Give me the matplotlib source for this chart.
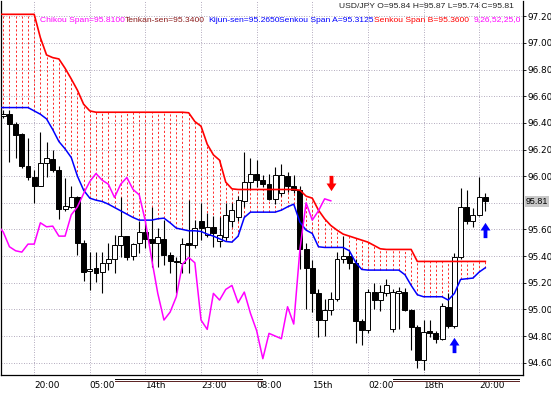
import numpy as np
import matplotlib.pyplot as plt
from matplotlib.path import Path
from matplotlib.lines import Line2D
from matplotlib.transforms import blended_transform_factory

# USD/JPY hourly candles (bar 0 = left edge, bar 78 = last bar)
opens = [96.455, 96.47, 96.395, 96.32, 96.08, 95.995, 95.925, 96.10, 96.13, 96.05,
         95.75, 95.77, 95.84, 95.495, 95.29, 95.31, 95.28, 95.35, 95.375, 95.48,
         95.55, 95.40, 95.495, 95.58, 95.525, 95.495, 95.53, 95.41, 95.365, 95.345,
         95.50, 95.48, 95.66, 95.56, 95.62, 95.51, 95.545, 95.66, 95.695, 95.81,
         95.96, 96.02, 95.97, 95.945, 95.83, 95.87, 96.00, 95.93, 95.895, 95.457,
         95.307, 95.12, 94.92, 94.995, 95.08, 95.38, 95.40, 95.345, 94.91, 94.845,
         95.13, 95.07, 95.125, 94.85, 95.125, 95.13, 94.995, 94.87, 94.62, 94.84,
         94.82, 94.775, 95.02, 94.875, 95.395, 95.77, 95.665, 95.71, 95.84]
highs = [96.495, 96.495, 96.41, 96.325, 96.285, 96.045, 96.33, 96.26, 96.195, 96.075,
         95.99, 95.93, 95.85, 95.52, 95.43, 95.43, 95.43, 95.495, 95.56, 95.845,
         95.55, 95.50, 95.66, 95.66, 95.77, 95.61, 95.67, 95.43, 95.395, 95.535,
         95.82, 95.67, 95.795, 95.72, 95.70, 95.695, 95.80, 95.80, 95.85, 96.18,
         96.14, 96.12, 96.01, 96.02, 96.07, 96.09, 96.03, 96.01, 95.93, 95.50,
         95.37, 95.15, 95.08, 95.13, 95.43, 95.55, 95.44, 95.38, 94.93, 95.15,
         95.20, 95.18, 95.23, 95.15, 95.17, 95.16, 95.00, 94.88, 94.92, 94.92,
         94.84, 95.05, 95.12, 95.42, 95.91, 95.895, 95.76, 95.995, 95.87]
lows = [96.435, 96.105, 96.14, 96.06, 95.97, 95.80, 95.925, 95.995, 96.03, 95.68,
        95.74, 95.76, 95.41, 95.21, 95.145, 95.205, 95.125, 95.295, 95.27, 95.395,
        95.37, 95.37, 95.42, 95.46, 95.32, 95.32, 95.33, 95.27, 95.12, 95.27,
        95.27, 95.46, 95.52, 95.54, 95.47, 95.47, 95.52, 95.62, 95.66, 95.77,
        95.90, 95.92, 95.92, 95.82, 95.79, 95.85, 95.88, 95.87, 95.30, 95.00,
        94.98, 94.795, 94.80, 94.96, 95.06, 95.35, 95.30, 94.75, 94.735, 94.82,
        95.00, 94.99, 95.10, 94.83, 94.85, 94.99, 94.695, 94.56, 94.545, 94.79,
        94.75, 94.77, 94.86, 94.86, 95.38, 95.64, 95.62, 95.70, 95.74]
closes = [96.47, 96.395, 96.31, 96.08, 95.995, 95.925, 96.10, 96.14, 96.05, 95.75,
          95.775, 95.84, 95.495, 95.28, 95.30, 95.275, 95.35, 95.375, 95.48, 95.55,
          95.395, 95.49, 95.58, 95.525, 95.50, 95.54, 95.41, 95.365, 95.355, 95.49,
          95.48, 95.61, 95.61, 95.62, 95.57, 95.56, 95.71, 95.745, 95.82, 95.96,
          96.02, 95.97, 95.945, 95.83, 96.01, 96.01, 95.93, 95.895, 95.457, 95.307,
          95.12, 94.92, 94.995, 95.08, 95.38, 95.40, 95.345, 94.91, 94.845, 95.13,
          95.07, 95.13, 95.18, 95.13, 95.14, 94.995, 94.87, 94.62, 94.83, 94.82,
          94.775, 95.025, 94.875, 95.395, 95.77, 95.665, 95.71, 95.84, 95.81]

# Ichimoku cloud lines, bars -1 .. 78
span_a = [96.515, 96.515, 96.515, 96.515, 96.515, 96.515, 96.49, 96.465, 96.43, 96.35,
          96.26, 96.205, 96.14, 96.00, 95.895, 95.835, 95.82, 95.81, 95.79, 95.765,
          95.74, 95.715, 95.69, 95.67, 95.67, 95.67, 95.68, 95.685, 95.65, 95.61,
          95.60, 95.59, 95.59, 95.585, 95.565, 95.55, 95.53, 95.51, 95.505, 95.55,
          95.69, 95.73, 95.73, 95.73, 95.73, 95.73, 95.745, 95.77, 95.79, 95.655,
          95.595, 95.57, 95.47, 95.465, 95.465, 95.465, 95.465, 95.44, 95.355, 95.30,
          95.295, 95.295, 95.295, 95.295, 95.295, 95.295, 95.26, 95.18, 95.11, 95.095,
          95.095, 95.095, 95.095, 95.07, 95.12, 95.225, 95.23, 95.235, 95.28, 95.3125]
span_b = [97.215, 97.215, 97.215, 97.215, 97.215, 97.215, 97.215, 97.04, 96.91, 96.89,
          96.88, 96.81, 96.73, 96.645, 96.54, 96.49, 96.48, 96.48, 96.48, 96.48,
          96.48, 96.48, 96.48, 96.48, 96.48, 96.48, 96.48, 96.48, 96.48, 96.48,
          96.48, 96.476, 96.41, 96.375, 96.24, 96.16, 96.12, 95.955, 95.905, 95.90,
          95.90, 95.90, 95.90, 95.90, 95.90, 95.90, 95.90, 95.90, 95.90, 95.895,
          95.85, 95.835, 95.745, 95.68, 95.63, 95.595, 95.565, 95.55, 95.535, 95.52,
          95.505, 95.48, 95.455, 95.45, 95.45, 95.45, 95.45, 95.45, 95.36, 95.36,
          95.36, 95.36, 95.36, 95.36, 95.36, 95.36, 95.36, 95.36, 95.36, 95.36]
# Chikou span, bars -1 .. 53
chikou = [95.64, 95.58, 95.47, 95.44, 95.43, 95.49, 95.49, 95.65, 95.62, 95.625,
          95.55, 95.55, 95.71, 95.77, 95.87, 95.96, 96.02, 95.97, 95.94, 95.84,
          95.94, 95.99, 95.90, 95.86, 95.66, 95.38, 95.12, 94.92, 94.98, 95.095,
          95.34, 95.39, 95.35, 94.92, 94.85, 95.12, 95.07, 95.15, 95.18, 95.05,
          95.13, 94.97, 94.84, 94.63, 94.82, 94.80, 94.78, 95.02, 94.89, 95.45,
          95.80, 95.67, 95.74, 95.83, 95.815]

# signal arrows
sig_bars = [53, 73, 78]
sig_prices = [95.95, 94.73, 95.595]
sig_up = [False, True, True]

time_labels = ['20:00', '05:00', '14th', '23:00', '08:00', '15th', '02:00', '18th', '20:00']
label_bars = [5, 14, 23, 32, 41, 50, 59, 68, 77]
price_ticks = np.round(np.arange(94.60, 97.21, 0.2), 2)
last_price = 95.81

W, H = 551, 393
fig = plt.figure(figsize=(W / 100, H / 100), dpi=100)
ax = fig.add_axes([1 / W, 18 / H, 522 / W, 374 / H])
plt.rcParams['font.family'] = ['Liberation Sans', 'DejaVu Sans']

o = np.array(opens); h = np.array(highs); l = np.array(lows); c = np.array(closes)
x = np.arange(len(o))
xs = np.arange(-1, len(span_a) - 1)
xc = np.arange(-1, len(chikou) - 1)

# cloud as dotted vertical lines
ax.vlines(xs, span_a, span_b, colors='#ff2a2a', linestyles=(0, (2.2, 2.2)), lw=0.7, zorder=1)

# candles
ax.vlines(x, l, h, color='black', lw=0.8, zorder=3)
up = c >= o
body = np.maximum(np.abs(c - o), 0.006)
ax.bar(x[up], body[up], bottom=o[up], width=0.8, facecolor='white', edgecolor='black', lw=0.7, zorder=4)
ax.bar(x[~up], body[~up], bottom=c[~up], width=0.8, facecolor='black', edgecolor='black', lw=0.7, zorder=4)

ax.plot(xs, span_b, color='#ff0000', lw=1.2, zorder=5)
ax.plot(xs, span_a, color='#0000ff', lw=1.1, zorder=5)
ax.plot(xc, chikou, color='#ff00ff', lw=1.1, zorder=5)

# arrows
arrow = Path([(-0.25, -1), (0.25, -1), (0.25, 0), (0.65, 0), (0, 1), (-0.65, 0), (-0.25, 0), (-0.25, -1)],
             closed=True)
arrow_dn = Path(arrow.vertices * [1, -1], arrow.codes)
for b, p, u in zip(sig_bars, sig_prices, sig_up):
    ax.plot(b, p, marker=arrow if u else arrow_dn, markersize=11, mew=0,
            color='#0000ff' if u else '#ff0000', zorder=6)

ax.set_xlim(-0.37, 84.1)
ax.set_ylim(94.5075, 97.315)

# grid
for p in price_ticks:
    ax.axhline(p, color='#9a8fa8', lw=0.6, ls=(0, (1, 2)), zorder=0)
for b in label_bars:
    ax.axvline(b, color='#9a8fa8', lw=0.6, ls=(0, (1, 2)), zorder=0)

# right price scale: the current price label takes the place of the nearest level
shown = [p for p in price_ticks if abs(p - last_price) > 0.05]
ax.yaxis.tick_right()
ax.set_yticks(shown)
ax.set_yticklabels([f'{p:.2f}' for p in shown], fontsize=6.4)
ax.tick_params(axis='y', length=2, pad=1, width=0.6)
ax.set_xticks(label_bars)
ax.set_xticklabels(time_labels, fontsize=6.4, ha='left')
ax.tick_params(axis='x', length=0, pad=4)
ax.spines['top'].set_visible(False)
for s in ['left', 'right', 'bottom']:
    ax.spines[s].set_linewidth(0.9)

trans = blended_transform_factory(ax.transAxes, ax.transData)
ax.text(1.005, last_price, f'{last_price:.2f}', transform=trans, fontsize=6.4, va='center', ha='left',
        bbox=dict(facecolor='#c8c8c8', edgecolor='none', pad=0.8), zorder=7)

# header texts
def px(xp, yp):
    return xp / W, 1 - yp / H

fig.text(*px(514, 7), 'USD/JPY O=95.84 H=95.87 L=95.74 C=95.81', fontsize=6.1, ha='right', va='center',
         color='#202020')
legend_items = [('Chikou Span=95.8100', '#ff00ff', 40), ('Tenkan-sen=95.3400', '#8b1a1a', 125),
                ('Kijun-sen=95.2650', '#0000ff', 208), ('Senkou Span A=95.3125', '#0000ff', 279),
                ('Senkou Span B=95.3600', '#ff0000', 374), ('9,26,52,25,0', '#ff00ff', 474)]
for txt, col, xp in legend_items:
    fig.text(*px(xp, 20), txt, fontsize=6.1, color=col, ha='left', va='center')

# double separator lines under the time axis
for x0, x1 in [(115, 262), (393, 519)]:
    fig.add_artist(Line2D([x0 / W, x1 / W], [1 - 378.5 / H] * 2, color='black', lw=0.7))
    fig.add_artist(Line2D([x0 / W, x1 / W], [1 - 380.7 / H] * 2, color='#5a2020', lw=0.7))

fig.savefig('out.png', dpi=100)
